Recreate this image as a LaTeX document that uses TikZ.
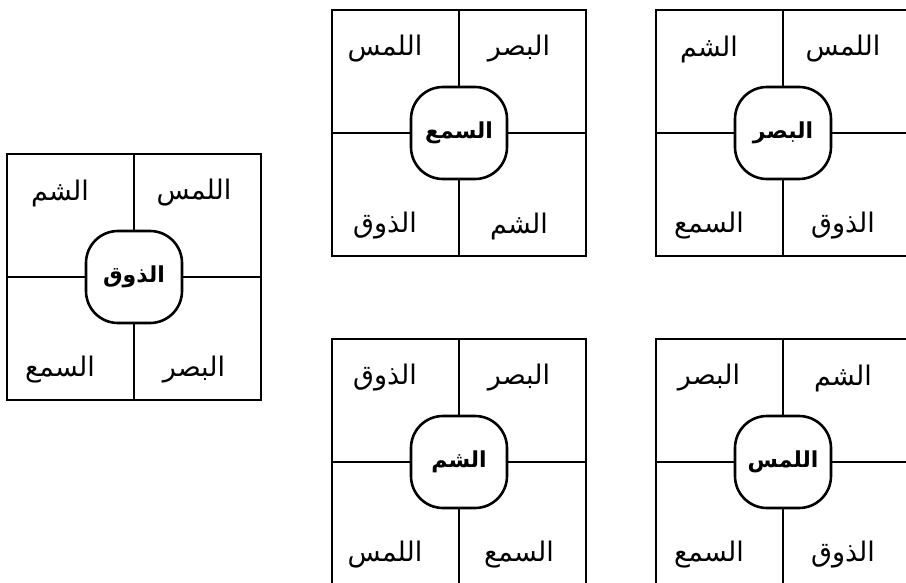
\documentclass[tikz,border=0pt]{standalone}
\usepackage{fontspec}
\newfontfamily\arabicfont[Script=Arabic]{DejaVu Sans}
\TeXXeTstate=1
\newcommand{\arb}[1]{\arabicfont\beginR #1\endR}

\begin{document}
\begin{tikzpicture}[x=1pt, y=-1pt,
    frame/.style={draw, line width=2.6pt, minimum width=254pt, minimum height=246pt, inner sep=0pt},
    hub/.style={draw, line width=2.6pt, fill=white, rounded corners=32pt, minimum width=96pt, minimum height=92pt, inner sep=0pt, font=\fontsize{22pt}{26pt}\selectfont\bfseries},
    sense/.style={font=\fontsize{27pt}{32pt}\selectfont, inner sep=0pt},
    spoke/.style={line width=2.6pt}]

\useasboundingbox (0,0) rectangle (906,582);
\clip (0,0) rectangle (906,582);

% Taste (left)
\node[frame] (fZ) at (134,277) {};
\node[hub] (hZ) at (134,277) {\arb{الذوق}};
\draw[spoke] (hZ.north) -- (hZ.north |- fZ.north);
\draw[spoke] (hZ.south) -- (hZ.south |- fZ.south);
\draw[spoke] (hZ.west) -- (hZ.west -| fZ.west);
\draw[spoke] (hZ.east) -- (hZ.east -| fZ.east);
\node[sense] (zTL) at (60,193) {\arb{الشم}};
\node[sense] (zTR) at (194,193) {\arb{اللمس}};
\node[sense] (zBL) at (60,370) {\arb{السمع}};
\node[sense] (zBR) at (194,370) {\arb{البصر}};

% Hearing (top middle)
\node[frame] (fS) at (459,133) {};
\node[hub] (hS) at (459,133) {\arb{السمع}};
\draw[spoke] (hS.north) -- (hS.north |- fS.north);
\draw[spoke] (hS.south) -- (hS.south |- fS.south);
\draw[spoke] (hS.west) -- (hS.west -| fS.west);
\draw[spoke] (hS.east) -- (hS.east -| fS.east);
\node[sense] (sTL) at (385,49) {\arb{اللمس}};
\node[sense] (sTR) at (519,49) {\arb{البصر}};
\node[sense] (sBL) at (385,226) {\arb{الذوق}};
\node[sense] (sBR) at (519,226) {\arb{الشم}};

% Sight (top right)
\node[frame] (fB) at (783,133) {};
\node[hub] (hB) at (783,133) {\arb{البصر}};
\draw[spoke] (hB.north) -- (hB.north |- fB.north);
\draw[spoke] (hB.south) -- (hB.south |- fB.south);
\draw[spoke] (hB.west) -- (hB.west -| fB.west);
\draw[spoke] (hB.east) -- (hB.east -| fB.east);
\node[sense] (bTL) at (709,49) {\arb{الشم}};
\node[sense] (bTR) at (843,49) {\arb{اللمس}};
\node[sense] (bBL) at (709,226) {\arb{السمع}};
\node[sense] (bBR) at (843,226) {\arb{الذوق}};

% Smell (bottom middle)
\node[frame] (fSh) at (459,462) {};
\node[hub] (hSh) at (459,462) {\arb{الشم}};
\draw[spoke] (hSh.north) -- (hSh.north |- fSh.north);
\draw[spoke] (hSh.south) -- (hSh.south |- fSh.south);
\draw[spoke] (hSh.west) -- (hSh.west -| fSh.west);
\draw[spoke] (hSh.east) -- (hSh.east -| fSh.east);
\node[sense] (shTL) at (385,378) {\arb{الذوق}};
\node[sense] (shTR) at (519,378) {\arb{البصر}};
\node[sense] (shBL) at (385,555) {\arb{اللمس}};
\node[sense] (shBR) at (519,555) {\arb{السمع}};

% Touch (bottom right)
\node[frame] (fL) at (783,462) {};
\node[hub] (hL) at (783,462) {\arb{اللمس}};
\draw[spoke] (hL.north) -- (hL.north |- fL.north);
\draw[spoke] (hL.south) -- (hL.south |- fL.south);
\draw[spoke] (hL.west) -- (hL.west -| fL.west);
\draw[spoke] (hL.east) -- (hL.east -| fL.east);
\node[sense] (lTL) at (709,378) {\arb{البصر}};
\node[sense] (lTR) at (843,378) {\arb{الشم}};
\node[sense] (lBL) at (709,555) {\arb{السمع}};
\node[sense] (lBR) at (843,555) {\arb{الذوق}};

\end{tikzpicture}
\end{document}
